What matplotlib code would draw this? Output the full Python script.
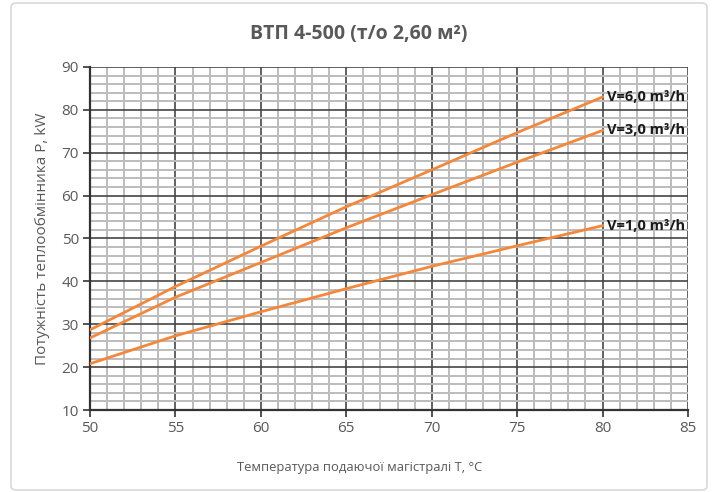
import matplotlib.pyplot as plt
from matplotlib.patches import FancyBboxPatch
from matplotlib.ticker import MultipleLocator

# data
temps = [50, 55, 60, 65, 70, 75, 80]
p_v6 = [28.7, 38.8, 48.2, 57.4, 66.0, 74.7, 83.0]
p_v3 = [26.8, 36.3, 44.4, 52.5, 60.2, 67.8, 75.2]
p_v1 = [20.8, 27.3, 32.9, 38.3, 43.5, 48.3, 53.0]
labels = ["V=6,0 m³/h", "V=3,0 m³/h", "V=1,0 m³/h"]

plt.rcParams['font.family'] = ['Open Sans', 'DejaVu Sans']
orange = '#f4873a'
gray_txt = '#595959'

fig = plt.figure(figsize=(7.13, 4.92), dpi=100)
frame = FancyBboxPatch((11 / 713, 2 / 492), 696 / 713, 487 / 492,
                       boxstyle="round,pad=0,rounding_size=0.008",
                       transform=fig.transFigure, fc='white',
                       ec='#d9d9d9', lw=1.2, zorder=-10)
fig.patches.append(frame)
ax = fig.add_axes([90 / 713, 1 - 410 / 492, 598 / 713, 343 / 492])
ax.set_facecolor('none')

for ys, lab in zip([p_v6, p_v3, p_v1], labels):
    ax.plot(temps, ys, color=orange, lw=2, zorder=3)
    ax.text(temps[-1] + 0.25, ys[-1], lab, fontsize=10.5, fontweight='bold',
            color='#1a1a1a', va='center', ha='left')

ax.set_xlim(50, 85)
ax.set_ylim(10, 90)
ax.xaxis.set_major_locator(MultipleLocator(5))
ax.xaxis.set_minor_locator(MultipleLocator(1))
ax.yaxis.set_major_locator(MultipleLocator(10))
ax.yaxis.set_minor_locator(MultipleLocator(2))
ax.grid(which='minor', color='#bcbcbc', lw=1.4, ls='-')
ax.grid(which='major', color='#464646', lw=1.2, ls='-')
ax.set_axisbelow(True)
ax.tick_params(which='minor', length=0)
ax.tick_params(which='major', length=5, width=1.2, color='#333333',
               labelsize=11, labelcolor=gray_txt, pad=3)
for s in ['top', 'right']:
    ax.spines[s].set_visible(False)
for s in ['left', 'bottom']:
    ax.spines[s].set_color('#333333')
    ax.spines[s].set_linewidth(1.6)

ax.set_xlabel("Температура подаючої магістралі T, °C", fontsize=9.4,
              color=gray_txt)
ax.xaxis.set_label_coords(0.4515, -0.15)
ax.set_ylabel("Потужність теплообмінника P, kW", fontsize=11,
              color=gray_txt, labelpad=8)
fig.text(359 / 713, 1 - 34 / 492, "ВТП 4-500 (т/о 2,60 м²)", fontsize=14,
         fontweight='bold', color=gray_txt, ha='center', va='center')

fig.savefig("out.png", dpi=100)
